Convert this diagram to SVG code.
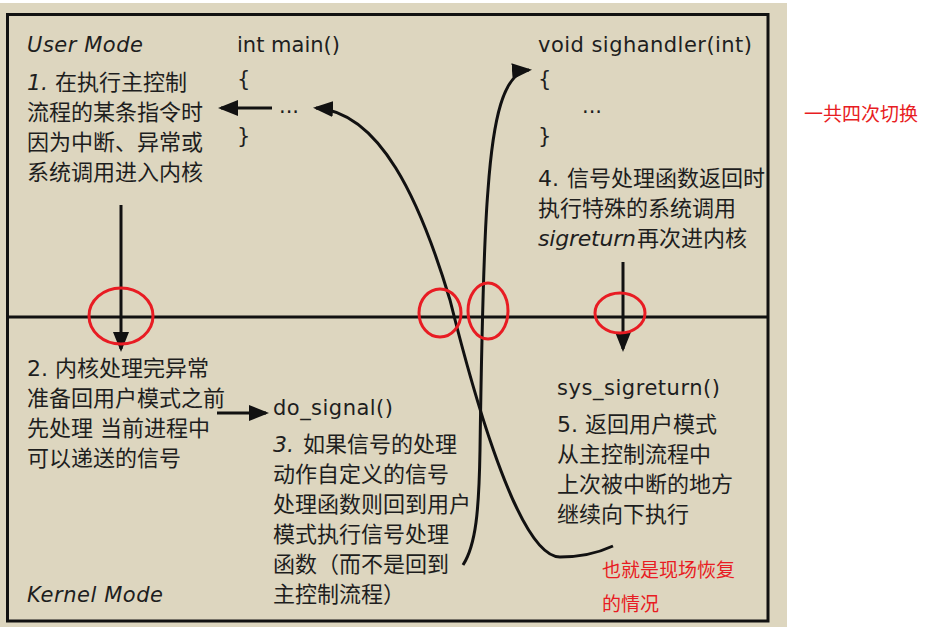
<svg xmlns="http://www.w3.org/2000/svg" width="946" height="627" viewBox="0 0 946 627">
<style>
.t{font-family:"DejaVu Sans","Noto Sans CJK SC",sans-serif;font-size:22px;fill:#1e1e1e}
.c{font-family:"DejaVu Sans",sans-serif;font-size:21px;fill:#1e1e1e}
.it{font-style:italic}
.red{font-family:"Noto Sans CJK SC",sans-serif;font-size:19px;fill:#e81c23}
.ln{fill:none;stroke:#111;stroke-width:3}
.circ{fill:none;stroke:#e81c23;stroke-width:3}
</style>
<defs>
<marker id="ah" markerWidth="20" markerHeight="16" refX="17" refY="8" orient="auto" markerUnits="userSpaceOnUse">
<path d="M0,0 L20,8 L0,16 z" fill="#111"/>
</marker>
</defs>
<rect x="0" y="0" width="946" height="627" fill="#ffffff"/>
<rect x="0" y="3" width="787" height="624" fill="#ddd6bf"/>
<g id="frame">
<rect x="7.5" y="14.5" width="760.5" height="606.5" class="ln"/>
<line x1="7" y1="317" x2="768" y2="317" class="ln"/>
</g>
<g id="user-mode-label"><text x="27" y="52" class="c it" textLength="116">User Mode</text></g>
<g id="step1">
<text x="27" y="90" class="t"><tspan class="it">1.</tspan><tspan x="55">在执行主控制</tspan></text>
<text x="27" y="120" class="t">流程的某条指令时</text>
<text x="27" y="150" class="t">因为中断、异常或</text>
<text x="27" y="180" class="t">系统调用进入内核</text>
</g>
<g id="main-func">
<text x="237" y="52" class="c" textLength="103">int main()</text>
<text x="237" y="86" class="c">{</text>
<text x="279" y="113" class="c">...</text>
<text x="237" y="143" class="c">}</text>
</g>
<g id="sighandler">
<text x="538" y="52" class="c" textLength="214">void sighandler(int)</text>
<text x="538" y="86" class="c">{</text>
<text x="582" y="113" class="c">...</text>
<text x="538" y="143" class="c">}</text>
</g>
<g id="step4">
<text x="538" y="186" class="t"><tspan>4.</tspan><tspan x="567">信号处理函数返回时</tspan></text>
<text x="538" y="216" class="t">执行特殊的系统调用</text>
<text x="538" y="246" class="t"><tspan class="it" textLength="98">sigreturn</tspan><tspan x="637">再次进内核</tspan></text>
</g>
<g id="kernel-mode-label"><text x="27" y="602" class="c it" textLength="136">Kernel Mode</text></g>
<g id="step2">
<text x="27" y="376" class="t"><tspan>2.</tspan><tspan x="55">内核处理完异常</tspan></text>
<text x="27" y="406" class="t">准备回用户模式之前</text>
<text x="27" y="436" class="t">先处理 当前进程中</text>
<text x="27" y="466" class="t">可以递送的信号</text>
</g>
<g id="do-signal">
<text x="273" y="415" class="c" textLength="120">do_signal()</text>
<text x="273" y="452" class="t"><tspan class="it">3.</tspan><tspan x="303">如果信号的处理</tspan></text>
<text x="273" y="482" class="t">动作自定义的信号</text>
<text x="273" y="512" class="t">处理函数则回到用户</text>
<text x="273" y="542" class="t">模式执行信号处理</text>
<text x="273" y="572" class="t">函数（而不是回到</text>
<text x="273" y="602" class="t">主控制流程）</text>
</g>
<g id="sys-sigreturn">
<text x="557" y="395" class="c" textLength="163">sys_sigreturn()</text>
<text x="557" y="432" class="t"><tspan>5.</tspan><tspan x="585">返回用户模式</tspan></text>
<text x="557" y="462" class="t">从主控制流程中</text>
<text x="557" y="492" class="t">上次被中断的地方</text>
<text x="557" y="522" class="t">继续向下执行</text>
</g>
<g id="connectors">
<line x1="272" y1="108" x2="221" y2="108" class="ln" marker-end="url(#ah)"/>
<line x1="121" y1="205" x2="121" y2="349" class="ln" marker-end="url(#ah)"/>
<line x1="217" y1="413" x2="266" y2="413" class="ln" marker-end="url(#ah)"/>
<line x1="623" y1="262" x2="623" y2="349" class="ln" marker-end="url(#ah)"/>
<path d="M613,546 C600,552 580,557 560,557 C515,557 465,360 450,300 C420,200 380,112 316,108" class="ln" marker-end="url(#ah)"/>
<path d="M463,565 C476,545 479,510 480,450 C481,380 483,250 488,190 C493,120 503,72 529,70" class="ln" marker-end="url(#ah)"/>
</g>
<g id="annotations">
<ellipse cx="121" cy="316" rx="32" ry="28" class="circ"/>
<ellipse cx="440" cy="313" rx="21" ry="24" class="circ"/>
<ellipse cx="488" cy="311" rx="20" ry="28" class="circ"/>
<ellipse cx="620" cy="313" rx="25" ry="20" class="circ"/>
<text x="804" y="121" class="red">一共四次切换</text>
<text x="602" y="577" class="red">也就是现场恢复</text>
<text x="602" y="611" class="red">的情况</text>
</g>
</svg>
